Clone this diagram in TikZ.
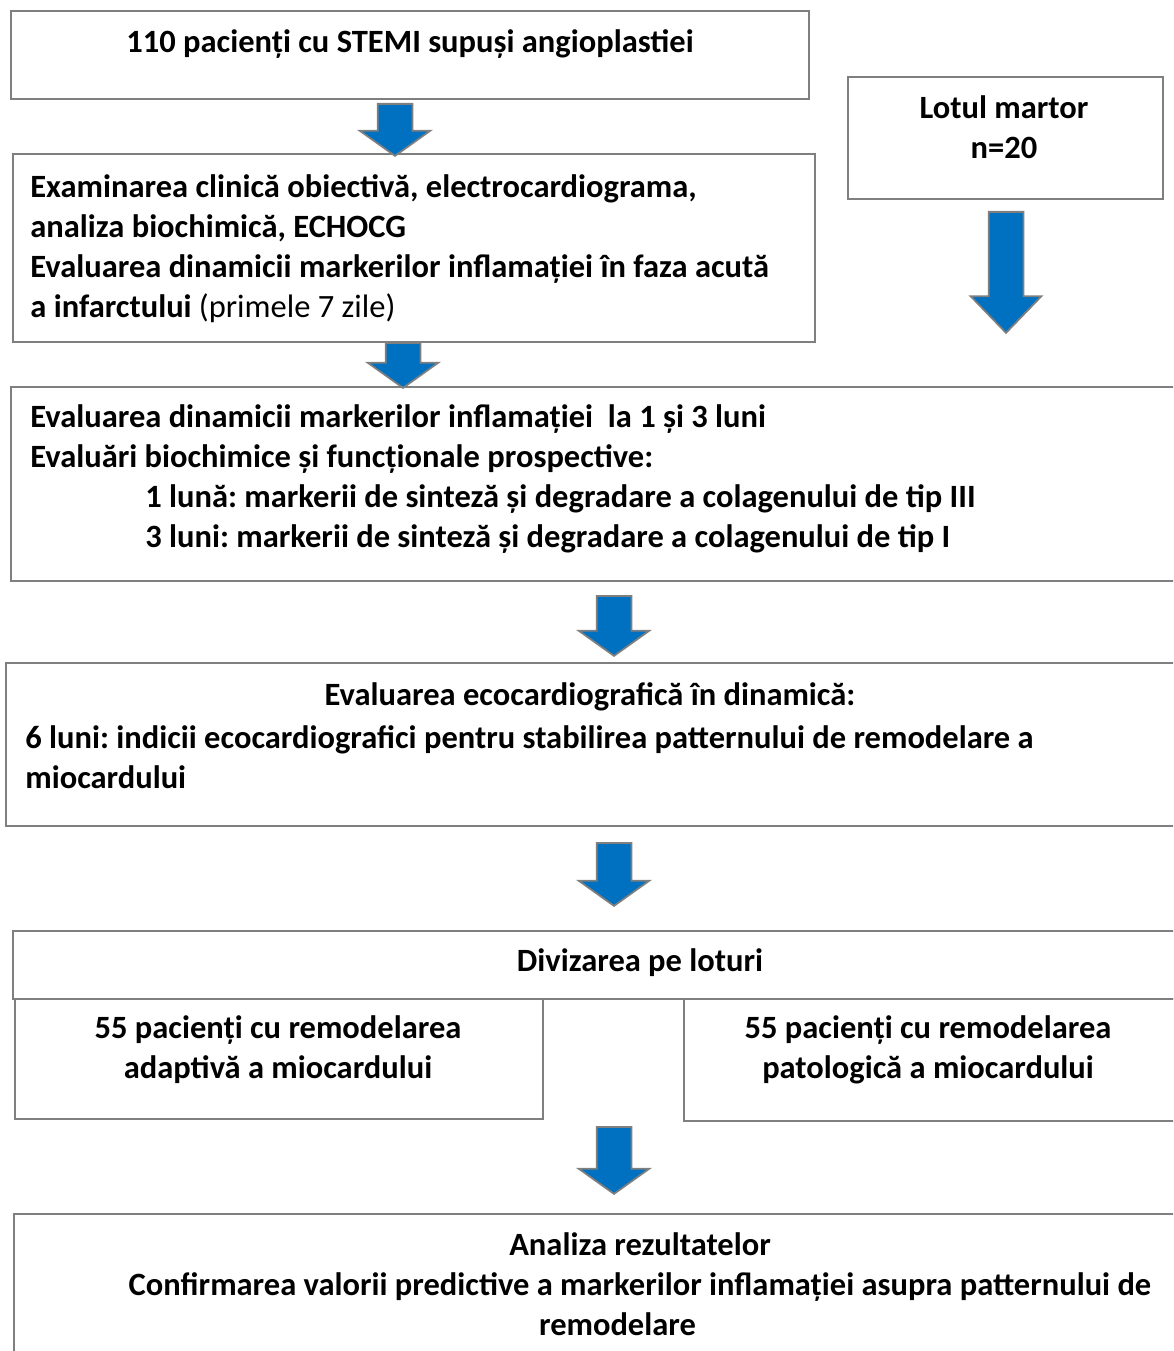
\documentclass[tikz,border=0pt]{standalone}
\usepackage{fontspec}
\setmainfont{Carlito}
\usetikzlibrary{shapes.arrows}
\definecolor{linegray}{HTML}{7F7F7F}
\definecolor{arrowblue}{HTML}{0070C0}
\frenchspacing

\begin{document}
\begin{tikzpicture}[x=0.02cm,y=-0.02cm,
  box/.style={draw=linegray, line width=1.1pt, anchor=north west, inner sep=0pt},
  txt/.style={font=\fontsize{18.5}{22.76}\selectfont\bfseries, inner sep=0pt},
  downarrow/.style={single arrow, draw=linegray, fill=arrowblue, line width=1pt,
    rotate=-90, anchor=tail, inner sep=0pt, text height=0.66cm, text depth=0pt,
    minimum width=0pt, single arrow head extend=0.36cm, single arrow tip angle=109}]
\path[use as bounding box, clip] (0,0) rectangle (1173,1351);

% boxes
\node[box, minimum width=798*0.02cm, minimum height=88*0.02cm] (b1) at (10,10) {};
\node[box, minimum width=315*0.02cm, minimum height=122*0.02cm] (bm) at (847,76) {};
\node[box, minimum width=802*0.02cm, minimum height=188*0.02cm] (b2) at (12,153) {};
\node[box, minimum width=1170*0.02cm, minimum height=194*0.02cm] (b3) at (10,386) {};
\node[box, minimum width=1175*0.02cm, minimum height=163*0.02cm] (b4) at (5,662) {};
\node[box, minimum width=1168*0.02cm, minimum height=68*0.02cm] (b5) at (12,930) {};
\node[box, minimum width=528*0.02cm, minimum height=120*0.02cm] (bl) at (14,998) {};
\node[box, minimum width=497*0.02cm, minimum height=122*0.02cm] (br) at (683,998) {};
\node[box, minimum width=1167*0.02cm, minimum height=160*0.02cm] (b6) at (13,1213) {};

% texts
\node[txt] (t1) at (410,44) {110 pacienți cu STEMI supuși angioplastiei};
\node[txt, align=center] (tm) at (1004,127) {Lotul martor\\n=20};
\node[txt, align=left, anchor=west] (t2) at (30,249) {Examinarea clinică obiectivă, electrocardiograma,\\
  analiza biochimică, ECHOCG\\
  Evaluarea dinamicii markerilor inflamației în faza acută\\
  a infarctului {\mdseries (primele 7 zile)}};
\node[txt, align=left, anchor=west] (t3) at (30,479) {Evaluarea dinamicii markerilor inflamației\ \ la 1 și 3 luni\\
  Evaluări biochimice și funcționale prospective:\\
  \hspace*{2.3cm}1 lună: markerii de sinteză și degradare a colagenului de tip III\\
  \hspace*{2.3cm}3 luni: markerii de sinteză și degradare a colagenului de tip I};
\node[txt] (t4a) at (590,697) {Evaluarea ecocardiografică în dinamică:};
\node[txt, align=left, anchor=west] (t4b) at (25,757) {6 luni: indicii ecocardiografici pentru stabilirea patternului de remodelare a\\
  miocardului};
\node[txt] (t5) at (640,963) {Divizarea pe loturi};
\node[txt, align=center] (tl) at (278,1050) {55 pacienți cu remodelarea\\adaptivă a miocardului};
\node[txt, align=center] (tr) at (928,1050) {55 pacienți cu remodelarea\\patologică a miocardului};
\node[txt, align=center] (t6) at (640,1284) {Analiza rezultatelor\\
  Confirmarea valorii predictive a markerilor inflamației asupra patternului de\\
  \hspace*{-0.9cm}remodelare};

% arrows
\node[downarrow, minimum height=52*0.02cm] (a1) at (395,103) {};
\node[downarrow, minimum height=45*0.02cm] (a2) at (403,342) {};
\node[downarrow, minimum height=121*0.02cm, single arrow tip angle=88] (am) at (1006,211) {};
\node[downarrow, minimum height=60*0.02cm] (a3) at (614,595) {};
\node[downarrow, minimum height=63*0.02cm] (a4) at (614,842) {};
\node[downarrow, minimum height=67*0.02cm] (a5) at (614,1126) {};
\end{tikzpicture}
\end{document}
